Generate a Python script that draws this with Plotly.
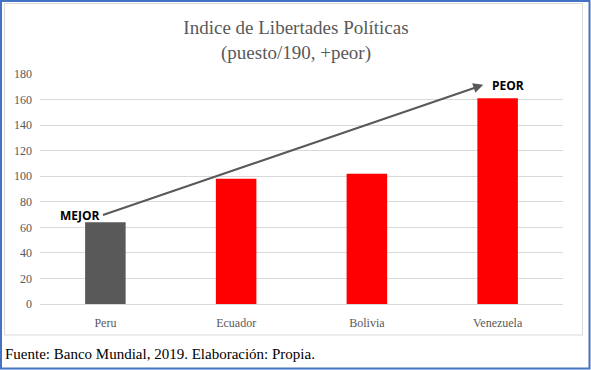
import plotly.graph_objects as go

categories = ["Peru", "Ecuador", "Bolivia", "Venezuela"]
values = [64, 98, 102, 161]
bar_colors = ["#595959", "#FF0000", "#FF0000", "#FF0000"]
y_ticks = [0, 20, 40, 60, 80, 100, 120, 140, 160, 180]

W, H = 591, 370
L, R, T, B = 40, 28, 74, 66
pw, ph = W - L - R, H - T - B

def px(x):
    return (x - L) / pw

def py(y):
    return (H - B - y) / ph

fig = go.Figure()
fig.add_trace(go.Bar(
    x=categories, y=values, marker_color=bar_colors, width=0.31,
    marker_line_width=0, showlegend=False, hoverinfo="skip",
))

serif = "Liberation Serif, Times New Roman, serif"
grey = "#595959"

fig.update_layout(
    width=W, height=H,
    margin=dict(l=L, r=R, t=T, b=B),
    paper_bgcolor="white", plot_bgcolor="white",
    font=dict(family=serif, color=grey, size=12),
    title=dict(
        text="Indice de Libertades Políticas<br>(puesto/190, +peor)",
        x=px(296), xref="paper", xanchor="center",
        y=1 - 34 / H, yanchor="middle",
        font=dict(family=serif, size=19, color=grey),
    ),
    xaxis=dict(
        showgrid=False, showline=True, linecolor="#D9D9D9", linewidth=1,
        ticks="", tickfont=dict(family=serif, size=12, color=grey),
        ticklabelstandoff=8,
        range=[-0.5, 3.5],
    ),
    yaxis=dict(
        range=[0, 180], tickvals=y_ticks, showgrid=True, gridcolor="#D9D9D9",
        gridwidth=1, zeroline=False, showline=False, ticks="",
        ticklabelstandoff=7,
        tickfont=dict(family=serif, size=12, color=grey),
    ),
    bargap=0.69,
)

# arrow from MEJOR to PEOR
fig.add_annotation(
    x=2.89, y=171.5, ax=-0.03, ay=69.2,
    xref="x", yref="y", axref="x", ayref="y",
    showarrow=True, arrowhead=2, arrowsize=1, arrowwidth=2,
    arrowcolor="#595959", text="",
)
fig.add_annotation(
    x=-0.024, y=69.5, xref="x", yref="y", text="<b>MEJOR</b>",
    showarrow=False, xanchor="right", yanchor="middle",
    font=dict(family="Open Sans, Liberation Sans, sans-serif", size=12, color="black"),
)
fig.add_annotation(
    x=2.943, y=171.3, xref="x", yref="y", text="<b>PEOR</b>",
    showarrow=False, xanchor="left", yanchor="middle",
    font=dict(family="Open Sans, Liberation Sans, sans-serif", size=12, color="black"),
)

# footer
fig.add_annotation(
    x=px(3), y=py(354), xref="paper", yref="paper",
    text="Fuente: Banco Mundial, 2019. Elaboración: Propia.",
    showarrow=False, xanchor="left", yanchor="middle",
    font=dict(family=serif, size=15, color="black"),
)

# inner chart box
fig.add_shape(type="rect", xref="paper", yref="paper",
              x0=px(4.5), x1=px(582.5), y0=py(335), y1=py(3.5),
              line=dict(color="#D9D9D9", width=1), fillcolor="rgba(0,0,0,0)", layer="below")
# outer blue frame
fig.add_shape(type="rect", xref="paper", yref="paper",
              x0=px(1), x1=px(589.5), y0=py(368.5), y1=py(1),
              line=dict(color="#4472C4", width=2), fillcolor="rgba(0,0,0,0)")

fig.write_html(
    "out.html",
    config={"displayModeBar": False, "staticPlot": True},
    post_script="document.body.style.margin='0';document.body.style.overflow='hidden';",
)
